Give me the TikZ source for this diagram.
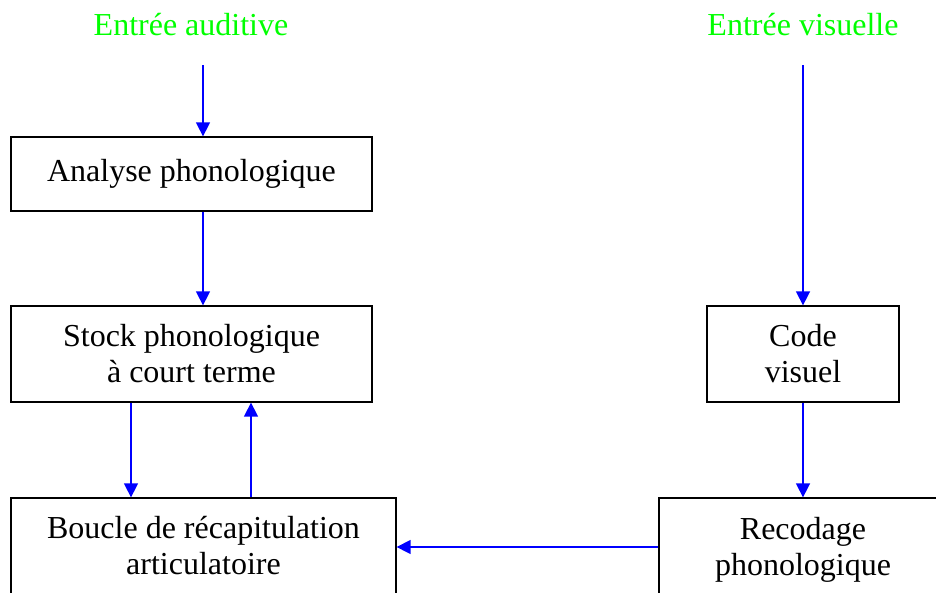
\documentclass[tikz,border=0pt]{standalone}
\usepackage{fontspec}
\setmainfont{Liberation Serif}
\usetikzlibrary{arrows.meta}
\definecolor{ingreen}{RGB}{0,255,0}
\definecolor{arrblue}{RGB}{0,0,255}
\tikzset{
  box/.style={draw=black, line width=1.3pt, inner sep=0pt, align=center,
    font=\fontsize{32}{36}\selectfont},
  title/.style={text=ingreen, inner sep=0pt, font=\fontsize{32}{36}\selectfont},
  arr/.style={draw=arrblue, line width=1.5pt,
    -{Triangle[length=14pt,width=14pt]}},
}
\begin{document}
\begin{tikzpicture}[x=1pt,y=-1pt]
\useasboundingbox (0,0) rectangle (936,592);
% titles
\node[title, anchor=base] (ta) at (191,35) {Entrée auditive};
\node[title, anchor=base] (tv) at (803,35) {Entrée visuelle};
\coordinate (ta-out) at (203,65);
\coordinate (tv-out) at (803,65);
% boxes
\node[box, minimum width=361pt, minimum height=74pt] (ana) at (191.5,174) {Analyse phonologique};
\node[box, minimum width=361pt, minimum height=96pt] (stock) at (191.5,354) {Stock phonologique\\à court terme};
\node[box, minimum width=385pt, minimum height=96pt] (boucle) at (203.5,546) {Boucle de récapitulation\\articulatoire};
\node[box, minimum width=192pt, minimum height=96pt] (code) at (803,354) {Code\\visuel};
\node[box, minimum width=288pt, minimum height=96pt, text depth=0pt] (recod) at (803,546) {Recodage\\phonologique};
% arrows
\draw[arr] (ta-out) -- ([xshift=11.5pt]ana.north);
\draw[arr] ([xshift=11.5pt]ana.south) -- ([xshift=11.5pt]stock.north);
\draw[arr] ([xshift=-60.5pt]stock.south) -- ([xshift=-72.5pt]boucle.north);
\draw[arr] ([xshift=47.5pt]boucle.north) -- ([xshift=59.5pt]stock.south);
\draw[arr] (tv-out) -- (code.north);
\draw[arr] (code.south) -- (recod.north);
\draw[arr] ([yshift=-1pt]recod.west) -- ([yshift=-1pt]boucle.east);
\end{tikzpicture}
\end{document}
